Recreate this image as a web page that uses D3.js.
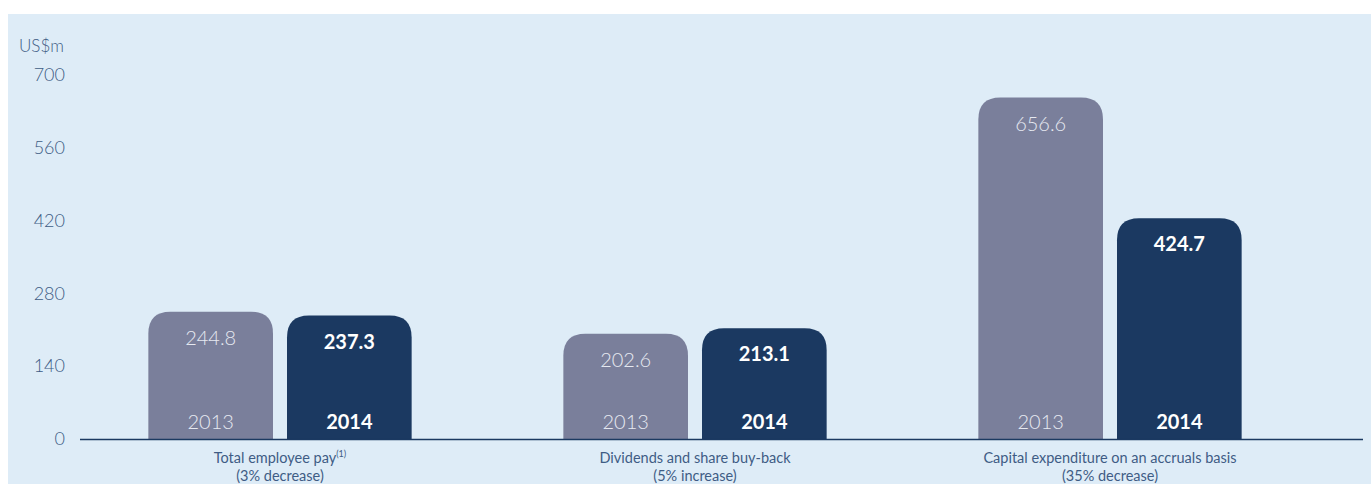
<!DOCTYPE html>
<html>
<head>
<meta charset="utf-8">
<script src="https://cdn.jsdelivr.net/npm/d3@7"></script>
<style>
  body { margin: 0; background: #fff; }
  svg { display: block; }
</style>
</head>
<body>
<div id="chart"></div>
<script>
// Data
const categories = ["Total employee pay", "Dividends and share buy-back", "Capital expenditure on an accruals basis"];
const notes = ["(3% decrease)", "(5% increase)", "(35% decrease)"];
const years = ["2013", "2014"];
const values2013 = [244.8, 202.6, 656.6];
const values2014 = [237.3, 213.1, 424.7];
const yTicks = [0, 140, 280, 420, 560, 700];

const width = 1371, height = 484;
const font = "Lato, 'Open Sans', sans-serif";
const textColor = "#3f5c85";
const colors = {"2013": "#7a7f9b", "2014": "#1b3961"};

const svg = d3.select("#chart").append("svg")
  .attr("width", width)
  .attr("height", height);

// light blue panel
svg.append("rect")
  .attr("x", 8).attr("y", 14)
  .attr("width", width - 8).attr("height", height - 14)
  .attr("fill", "#deecf7");

// Scales
const y = d3.scaleLinear().domain([0, 700]).range([439, 75]);
const x0 = d3.scaleBand().domain(categories).range([72.5, 1317.5]);
const x1 = d3.scaleBand().domain(years).range([0, x0.bandwidth()])
  .paddingInner(0.101).paddingOuter(0.547);

// Y tick labels (no axis line)
const yAxis = svg.append("g")
  .attr("transform", "translate(65,0)")
  .call(d3.axisLeft(y).tickValues(yTicks).tickSize(0).tickPadding(0));
yAxis.select(".domain").remove();
yAxis.selectAll("text")
  .attr("fill", textColor)
  .style("font-family", font)
  .style("font-weight", 300)
  .style("font-size", "18px");

svg.append("text")
  .attr("x", 19).attr("y", 52)
  .attr("fill", textColor)
  .style("font-family", font)
  .style("font-weight", 300)
  .style("font-size", "17px")
  .text("US$m");

// bar path with rounded top corners
function topRounded(x, yTop, w, yBottom, r) {
  return `M${x},${yBottom} L${x},${yTop + r} Q${x},${yTop} ${x + r},${yTop}
    L${x + w - r},${yTop} Q${x + w},${yTop} ${x + w},${yTop + r} L${x + w},${yBottom} Z`;
}

const rows = categories.map((c, i) => ({
  cat: c,
  bars: [{year: "2013", value: values2013[i]}, {year: "2014", value: values2014[i]}]
}));

const groups = svg.selectAll(".grp").data(rows).enter().append("g")
  .attr("class", "grp")
  .attr("transform", d => `translate(${x0(d.cat)},0)`);

const bars = groups.selectAll(".bar").data(d => d.bars).enter().append("g")
  .attr("class", "bar");

bars.append("path")
  .attr("d", d => topRounded(x1(d.year), y(d.value), x1.bandwidth(), y(0), 22))
  .attr("fill", d => colors[d.year]);

// value labels
bars.append("text")
  .attr("x", d => x1(d.year) + x1.bandwidth() / 2)
  .attr("y", d => y(d.value) + 33)
  .attr("text-anchor", "middle")
  .attr("fill", d => d.year === "2013" ? "#e6e9f1" : "#ffffff")
  .style("font-family", font)
  .style("font-weight", d => d.year === "2013" ? 300 : 700)
  .style("font-size", "20px")
  .text(d => d3.format(".1f")(d.value));

// year labels
bars.append("text")
  .attr("x", d => x1(d.year) + x1.bandwidth() / 2)
  .attr("y", y(0) - 10)
  .attr("text-anchor", "middle")
  .attr("fill", d => d.year === "2013" ? "#e6e9f1" : "#ffffff")
  .style("font-family", font)
  .style("font-weight", d => d.year === "2013" ? 300 : 700)
  .style("font-size", "20px")
  .text(d => d.year);

// baseline
svg.append("line")
  .attr("x1", 80).attr("x2", 1363)
  .attr("y1", y(0) + 0.5).attr("y2", y(0) + 0.5)
  .attr("stroke", "#1b3961")
  .attr("stroke-width", 1.5);

// category labels
const cats = groups.append("text")
  .attr("x", x0.bandwidth() / 2)
  .attr("y", 463)
  .attr("text-anchor", "middle")
  .attr("fill", textColor)
  .style("font-family", font)
  .style("font-weight", 400)
  .style("font-size", "14.5px");

cats.append("tspan").text(d => d.cat);
cats.filter((d, i) => i === 0).append("tspan")
  .attr("dy", -6)
  .style("font-size", "9px")
  .text("(1)");
cats.append("tspan")
  .attr("x", x0.bandwidth() / 2)
  .attr("y", 481)
  .text((d, i) => notes[i]);
</script>
</body>
</html>
